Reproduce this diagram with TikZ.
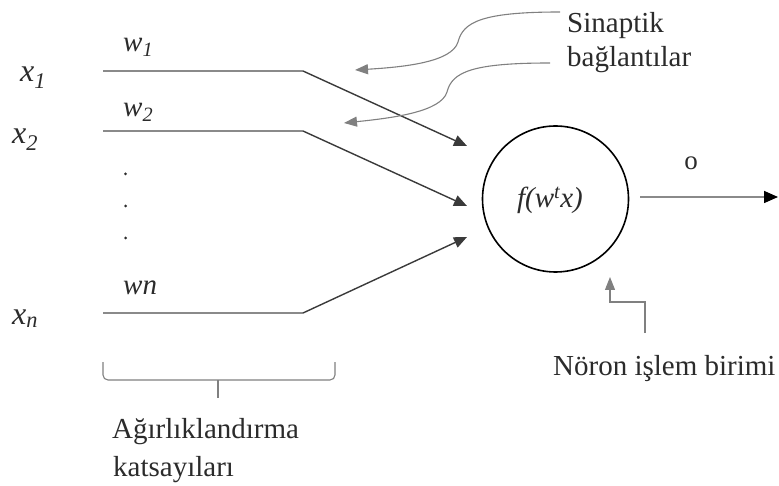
\documentclass[tikz,border=0pt]{standalone}
\usepackage{fontspec}
\setmainfont{Liberation Serif}
\usetikzlibrary{arrows.meta}
\definecolor{txt}{HTML}{2B2B2B}
\definecolor{wire}{HTML}{8A8A8A}
\definecolor{link}{HTML}{3A3A3A}
\definecolor{note}{HTML}{808080}
\tikzset{
  lbl/.style={inner sep=0pt, text=txt, font=\fontsize{29}{33}\selectfont, anchor=base west},
  inlbl/.style={inner sep=0pt, text=txt, font=\fontsize{32}{36}\selectfont\itshape, anchor=base west},
  wlbl/.style={inner sep=0pt, text=txt, font=\fontsize{29}{33}\selectfont\itshape, anchor=base west},
  wireline/.style={draw=wire, line width=2pt},
  linkline/.style={draw=link, line width=1.4pt, -{Triangle[length=13pt,width=11pt]}},
  notearrow/.style={draw=note, line width=1.1pt, -{Triangle[length=13pt,width=10pt]}},
  dotmark/.style={circle, fill=txt, inner sep=0pt, minimum size=3pt}
}
\begin{document}
\begin{tikzpicture}[x=1pt,y=-1pt]
\useasboundingbox (0,0) rectangle (779,486);

% input labels
\node[inlbl] (x1) at (20,82) {x\textsubscript{\itshape 1}};
\node[inlbl] (x2) at (12,144) {x\textsubscript{\itshape 2}};
\node[inlbl] (xn) at (12,324) {x\textsubscript{\itshape n}};

% weight labels
\node[wlbl] (w1) at (123,52) {w\textsubscript{\itshape 1}};
\node[wlbl] (w2) at (123,117) {w\textsubscript{\itshape 2}};
\node[wlbl] (wn) at (123,295) {wn};

% vertical ellipsis
\node[dotmark] (d1) at (125.5,174) {};
\node[dotmark] (d2) at (125.5,206) {};
\node[dotmark] (d3) at (125.5,238) {};

% neuron
\node[circle, draw=black, line width=1.6pt, minimum size=146pt, inner sep=0pt] (neuron) at (555.5,199) {};
\node[inner sep=0pt, text=txt, font=\fontsize{29}{33}\selectfont\itshape] (fx) at (550,200) {f(w\textsuperscript{t}x)};

% wire points
\coordinate (a1) at (103,71);  \coordinate (b1) at (303,71);  \coordinate (t1) at (467,146);
\coordinate (a2) at (103,131); \coordinate (b2) at (303,131); \coordinate (t2) at (467,206);
\coordinate (an) at (103,313); \coordinate (bn) at (303,313); \coordinate (tn) at (467,237);

\draw[wireline] (a1) -- (b1);
\draw[wireline] (a2) -- (b2);
\draw[wireline] (an) -- (bn);
\draw[linkline] (b1) -- (t1);
\draw[linkline] (b2) -- (t2);
\draw[linkline] (bn) -- (tn);

% output
\coordinate (o0) at (640,197);
\coordinate (o1) at (778,197);
\draw[draw=wire, line width=1.6pt, -{Triangle[length=14pt,width=12pt,color=black]}] (o0) -- (o1);
\node[inner sep=0pt, text=txt, font=\fontsize{27}{30}\selectfont, anchor=base] (olbl) at (691,170) {o};

% synapse note
\node[lbl] (syn1) at (567,33) {Sinaptik};
\node[lbl] (syn2) at (567,67) {bağlantılar};
\coordinate (s1a) at (560,12);  \coordinate (s1b) at (458,42);  \coordinate (s1t) at (355,70);
\coordinate (s2a) at (550,63);  \coordinate (s2b) at (447,92);  \coordinate (s2t) at (344,123);
\draw[notearrow] (s1a) .. controls (482,12) and (463,22) .. (s1b)
                       .. controls (452,62) and (405,67) .. (s1t);
\draw[notearrow] (s2a) .. controls (472,63) and (452,72) .. (s2b)
                       .. controls (441,112) and (392,118) .. (s2t);

% processing unit note
\node[lbl] (unit) at (553,375) {Nöron işlem birimi};
\coordinate (u0) at (645,333); \coordinate (u1) at (645,302);
\coordinate (u2) at (610,302); \coordinate (u3) at (610,277);
\draw[notearrow] (u0) -- (u1) -- (u2) -- (u3);

% weights brace
\coordinate (br0) at (103,362); \coordinate (br1) at (335,362);
\coordinate (brm) at (218,380); \coordinate (brt) at (218,398);
\draw[draw=note, line width=1.1pt, rounded corners=5pt] (br0) -- (103,380) -- (335,380) -- (br1);
\draw[draw=note, line width=1.1pt] (brm) -- (brt);
\node[lbl] (wt1) at (112,438) {Ağırlıklandırma};
\node[lbl] (wt2) at (113,476) {katsayıları};
\end{tikzpicture}
\end{document}
